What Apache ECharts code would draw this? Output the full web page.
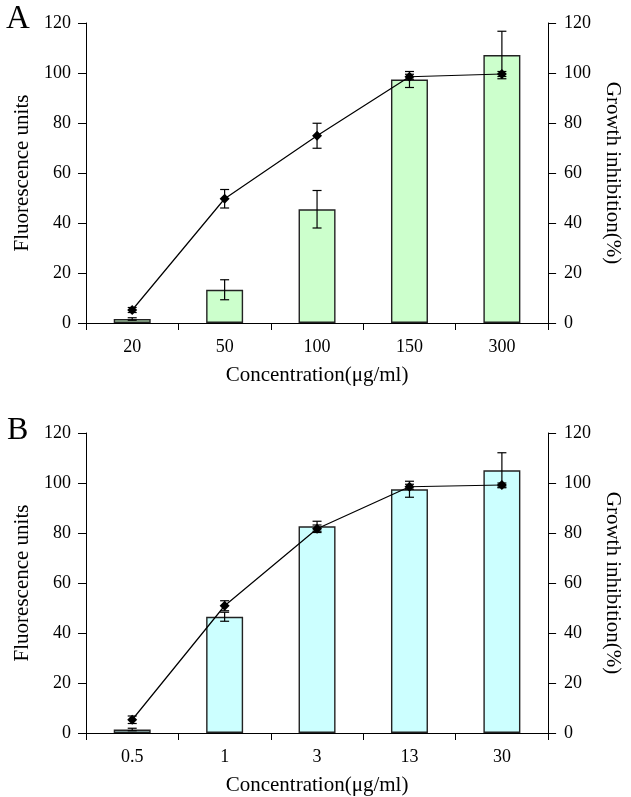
<!DOCTYPE html>
<html><head><meta charset="utf-8">
<script src="https://cdn.jsdelivr.net/npm/echarts@6/dist/echarts.min.js"></script>
<style>html,body{margin:0;padding:0;background:#fff}#c{width:631px;height:797px}</style>
</head><body><div id="c"></div>
<script>
const catsA = ['20','50','100','150','300'];
const barA = [1.6, 13.3, 45.5, 97.4, 107.2];
const barErrA = [0.5, 4.0, 7.5, 3.2, 9.5];
const lineA = [5.2, 49.7, 74.9, 98.5, 99.6];
const lineErrA = [1.0, 3.7, 5.0, 1.0, 1.0];

const catsB = ['0.5','1','3','13','30'];
const barB = [1.4, 46.5, 82.7, 97.5, 105.1];
const barErrB = [0.5, 1.8, 2.0, 3.2, 7.0];
const lineB = [5.3, 50.9, 81.7, 98.5, 99.2];
const lineErrB = [1.5, 2.0, 1.5, 1.0, 0.8];

const yTicks = [0, 20, 40, 60, 80, 100, 120];

const FONT = 'Liberation Serif';
const chart = echarts.init(document.getElementById('c'), null, {renderer:'canvas'});

function errSeries(xi, yi, vals, errs){
  return {
    type:'custom', xAxisIndex:xi, yAxisIndex:yi, z:10,
    data: vals.map((v,i)=>[i, v-errs[i], v+errs[i]]),
    renderItem: function(params, api){
      const lo = api.coord([api.value(0), api.value(1)]);
      const hi = api.coord([api.value(0), api.value(2)]);
      const w = 4.5;
      const st = {stroke:'#000', lineWidth:1.2};
      return {type:'group', children:[
        {type:'line', shape:{x1:hi[0],y1:hi[1],x2:lo[0],y2:lo[1]}, style:st},
        {type:'line', shape:{x1:hi[0]-w,y1:hi[1],x2:hi[0]+w,y2:hi[1]}, style:st},
        {type:'line', shape:{x1:lo[0]-w,y1:lo[1],x2:lo[0]+w,y2:lo[1]}, style:st}
      ]};
    }
  };
}

function xAx(gi, cats){
  return {type:'category', gridIndex:gi, data:cats,
    name:'Concentration(μg/ml)', nameLocation:'middle', nameGap:42,
    nameTextStyle:{fontFamily:FONT, fontSize:21, color:'#000'},
    axisLine:{lineStyle:{color:'#000', width:1}},
    axisTick:{show:true, length:7, lineStyle:{color:'#000'}},
    axisLabel:{fontFamily:FONT, fontSize:18, color:'#000', margin:15},
    splitLine:{show:false}};
}
function yAx(gi, right, name){
  return {type:'value', gridIndex:gi, min:0, max:120, interval:20, position: right?'right':'left',
    name:name, nameLocation:'middle', nameGap:50, nameRotate: right?-90:90,
    nameTextStyle:{fontFamily:FONT, fontSize:21, color:'#000'},
    axisLine:{show:true, lineStyle:{color:'#000', width:1}},
    axisTick:{show:true, length:8, inside:false, lineStyle:{color:'#000'}},
    axisLabel:{fontFamily:FONT, fontSize:18, color:'#000', margin: right?16:15,
      formatter: v => yTicks.indexOf(v)>=0 ? String(v) : ''},
    splitLine:{show:false}};
}

const option = {
  animation:false,
  backgroundColor:'#fff',
  graphic:[
    {type:'text', left:6, top:3, style:{text:'A', font:'33px "Liberation Serif"', fill:'#000'}},
    {type:'text', left:7, top:415, style:{text:'B', font:'32px "Liberation Serif"', fill:'#000'}}
  ],
  grid:[
    {left:86, right:69, top:23, height:300},
    {left:86, right:69, top:433, height:301}
  ],
  xAxis:[xAx(0, catsA), xAx(1, catsB)],
  yAxis:[
    yAx(0,false,'Fluorescence units'), yAx(0,true,'Growth inhibition(%)'),
    yAx(1,false,'Fluorescence units'), yAx(1,true,'Growth inhibition(%)')
  ],
  series:[
    {type:'bar', xAxisIndex:0, yAxisIndex:0, data:barA, barWidth:'40%',
      itemStyle:{color:'#CCFFCC', borderColor:'#222', borderWidth:1.4}},
    errSeries(0,0,barA,barErrA),
    {type:'line', xAxisIndex:0, yAxisIndex:1, data:lineA, symbol:'diamond', symbolSize:10,
      itemStyle:{color:'#000'}, lineStyle:{color:'#000', width:1.2}, z:11},
    errSeries(0,1,lineA,lineErrA),
    {type:'bar', xAxisIndex:1, yAxisIndex:2, data:barB, barWidth:'40%',
      itemStyle:{color:'#CCFFFF', borderColor:'#222', borderWidth:1.4}},
    errSeries(1,2,barB,barErrB),
    {type:'line', xAxisIndex:1, yAxisIndex:3, data:lineB, symbol:'diamond', symbolSize:10,
      itemStyle:{color:'#000'}, lineStyle:{color:'#000', width:1.2}, z:11},
    errSeries(1,3,lineB,lineErrB)
  ]
};
chart.setOption(option);
</script></body></html>
